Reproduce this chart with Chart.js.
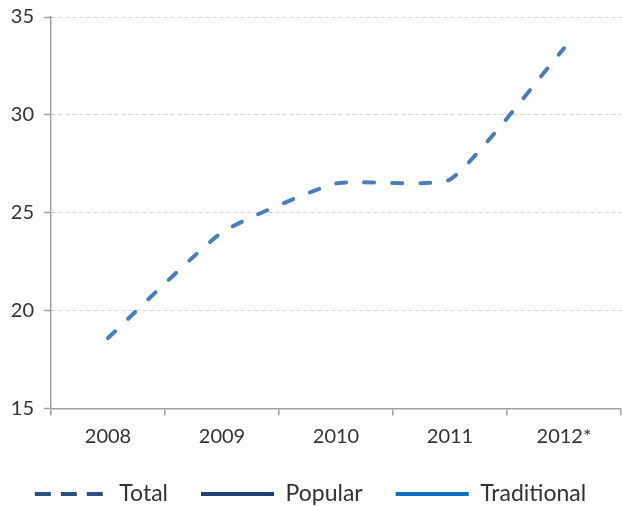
<!DOCTYPE html>
<html>
<head>
<meta charset="utf-8">
<script src="https://cdn.jsdelivr.net/npm/chart.js@4.4.0/dist/chart.umd.min.js"></script>
<style>
html,body{margin:0;padding:0;background:#fff;}
#wrap{width:622px;height:506px;position:relative;}
</style>
</head>
<body>
<div id="wrap"><canvas id="c" width="622" height="506"></canvas></div>
<script>
const categories = ["2008", "2009", "2010", "2011", "2012*"];
const totalValues = [18.6, 24.0, 26.5, 26.7, 33.4];
const popularValues = [];
const traditionalValues = [];
const yTicks = [15, 20, 25, 30, 35];

const legendStyles = {
  "Total": {color: "#2b4f82", dash: [16, 10]},
  "Popular": {color: "#213f74", dash: []},
  "Traditional": {color: "#0a70c2", dash: []}
};

new Chart(document.getElementById("c"), {
  type: "line",
  data: {
    labels: categories,
    datasets: [
      {label: "Total", data: totalValues, borderColor: "#4a7ebb", backgroundColor: "#4a7ebb",
       borderWidth: 4, borderDash: [10, 18], borderCapStyle: "round", tension: 0.15,
       pointRadius: 0, fill: false},
      {label: "Popular", data: popularValues, borderColor: "#213f74", borderWidth: 4, pointRadius: 0},
      {label: "Traditional", data: traditionalValues, borderColor: "#0a70c2", borderWidth: 4, pointRadius: 0}
    ]
  },
  options: {
    responsive: false,
    animation: false,
    devicePixelRatio: 1,
    layout: {padding: {top: 17, right: 1, left: 0, bottom: -9.5}},
    plugins: {
      tooltip: {enabled: false},
      legend: {
        position: "bottom",
        labels: {
          usePointStyle: true,
          pointStyleWidth: 73,
          boxHeight: 20,
          padding: 33,
          color: "#333333",
          font: {family: "Lato", size: 23},
          generateLabels: (chart) => chart.data.datasets.map((ds, i) => {
            const st = legendStyles[ds.label];
            return {
              text: ds.label,
              pointStyle: "line",
              strokeStyle: st.color,
              fillStyle: st.color,
              lineWidth: 4,
              lineDash: st.dash,
              lineCap: "butt",
              fontColor: "#333333",
              hidden: false,
              datasetIndex: i
            };
          })
        }
      }
    },
    scales: {
      x: {
        offset: true,
        grid: {display: true, offset: true, drawOnChartArea: false, tickLength: 7, color: "#a0a0a0", lineWidth: 1.5},
        border: {display: true, color: "#a0a0a0", width: 1.5},
        ticks: {color: "#333333", font: {family: "Lato", size: 20}, padding: 9, maxRotation: 0},
        afterFit: (s) => { s.height = 41; }
      },
      y: {
        min: 15, max: 35,
        afterBuildTicks: (s) => { s.ticks = yTicks.map(v => ({value: v})); },
        grid: {color: "#d4d4d4", lineWidth: 1, tickLength: 7, tickColor: "#a0a0a0", tickWidth: 1.5,
               tickBorderDash: [], drawTicks: true},
        border: {display: true, color: "#a0a0a0", width: 1.5, dash: [4, 3]},
        ticks: {color: "#333333", font: {family: "Lato", size: 20}, padding: 10},
        afterFit: (s) => { s.width = 51; s.paddingTop = 0; s.paddingBottom = 0; }
      }
    }
  }
});
</script>
</body>
</html>
